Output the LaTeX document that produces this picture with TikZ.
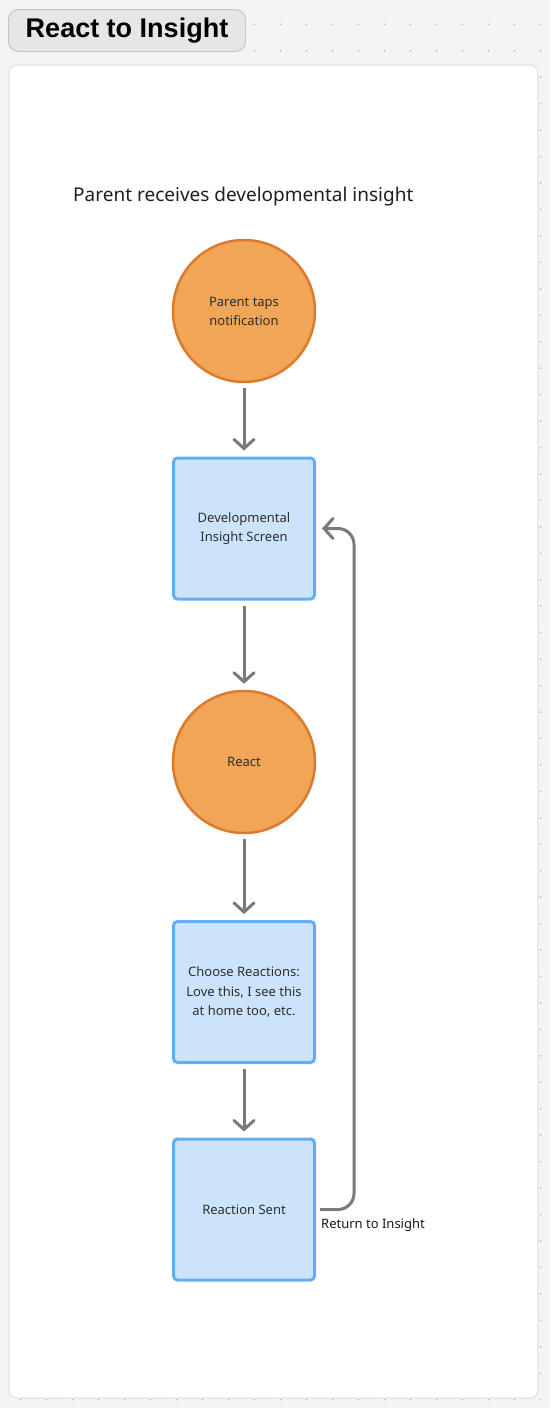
\documentclass[tikz,border=0pt]{standalone}
\usepackage{fontspec}
\setmainfont{Noto Sans}
\newfontfamily\titlefont{Liberation Sans}
\usetikzlibrary{arrows.meta}
\definecolor{bgc}{HTML}{F4F4F4}
\definecolor{dotc}{HTML}{BDBDBD}
\definecolor{pillfill}{HTML}{E6E6E6}
\definecolor{pilldraw}{HTML}{C6C6C6}
\definecolor{paneldraw}{HTML}{E2E2E2}
\definecolor{orfill}{HTML}{F0A557}
\definecolor{ordraw}{HTML}{DC7A2D}
\definecolor{bluefill}{HTML}{CCE4FB}
\definecolor{bluedraw}{HTML}{63ADF2}
\definecolor{arrowc}{HTML}{7A7A7A}
\definecolor{txt}{HTML}{2E2E2E}
\tikzset{
  circ/.style={circle, draw=ordraw, fill=orfill, line width=2.5pt, minimum size=142pt, inner sep=0pt, align=center, text=txt, font=\fontsize{13}{19}\selectfont},
  sq/.style={rectangle, rounded corners=4pt, draw=bluedraw, fill=bluefill, line width=3pt, minimum width=141pt, minimum height=141pt, inner sep=0pt, align=center, text=txt, font=\fontsize{13}{19.5}\selectfont},
  conn/.style={draw=arrowc, line width=3pt, -{Straight Barb[length=9pt,width=20pt,line cap=round]}}
}
\begin{document}
\begin{tikzpicture}[x=1pt,y=-1pt]
\useasboundingbox (0,0) rectangle (550,1408);
\fill[bgc] (0,0) rectangle (550,1408);
\foreach \i in {0,...,20}{
  \foreach \j in {0,...,52}{
    \fill[dotc] ({20.5+26*\i},{24.3+26.45*\j}) circle (1pt);
  }
}
% title pill
\node[draw=pilldraw, fill=pillfill, rounded corners=10pt, line width=1pt, minimum width=237pt, minimum height=42pt, inner sep=0pt, anchor=north west, font=\titlefont\bfseries\fontsize{27}{32}\selectfont] (title) at (8,9) {React to Insight};
% panel
\draw[paneldraw, fill=white, line width=1.2pt, rounded corners=8pt] (9,65) rectangle (538,1398);
\node[anchor=base west, font=\fontsize{19}{22}\selectfont, text=black!88, inner sep=0pt] (head) at (73,201) {Parent receives developmental insight};
% nodes
\node[circ] (n1) at (244,311) {Parent taps\\notification};
\node[sq] (n2) at (244,528.5) {Developmental\\Insight Screen};
\node[circ] (n3) at (244,762) {React};
\node[sq] (n4) at (244,992) {Choose Reactions:\\Love this, I see this\\at home too, etc.};
\node[sq] (n5) at (244,1209.5) {Reaction Sent};
% connectors
\draw[conn] ([yshift=-5pt]n1.south) -- ([yshift=6pt]n2.north);
\draw[conn] ([yshift=-5pt]n2.south) -- ([yshift=6pt]n3.north);
\draw[conn] ([yshift=-5pt]n3.south) -- ([yshift=6pt]n4.north);
\draw[conn] ([yshift=-5pt]n4.south) -- ([yshift=6pt]n5.north);
\coordinate (cr) at (354,1209.5);
\draw[conn, rounded corners=16pt] ([xshift=4pt]n5.east) -- (cr) -- (354,528.5) -- ([xshift=6pt]n2.east);
\node[anchor=west, font=\fontsize{13}{16}\selectfont, text=black!90, inner sep=0pt] (lbl) at (321,1225) {Return to Insight};
\end{tikzpicture}
\end{document}
